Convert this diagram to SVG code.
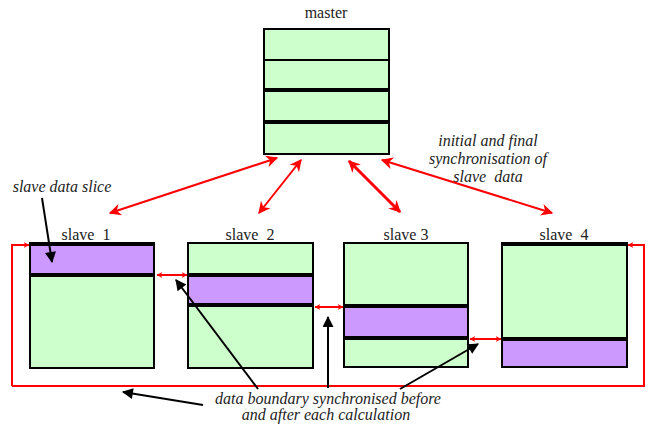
<svg xmlns="http://www.w3.org/2000/svg" width="649" height="425" viewBox="0 0 649 425">
<defs>
<marker id="ra" viewBox="0 0 10 10" refX="9" refY="5" markerWidth="6" markerHeight="6" markerUnits="userSpaceOnUse" orient="auto-start-reverse"><path d="M0,0 L10,5 L0,10 L3,5 z" fill="#ff0000"/></marker>
<marker id="rb" viewBox="0 0 10 10" refX="9" refY="5" markerWidth="14" markerHeight="12" markerUnits="userSpaceOnUse" orient="auto-start-reverse"><path d="M0,0 L10,5 L0,10 L3,5 z" fill="#ff0000"/></marker>
<marker id="ba" viewBox="0 0 10 10" refX="9" refY="5" markerWidth="13" markerHeight="11" markerUnits="userSpaceOnUse" orient="auto"><path d="M0,0 L10,5 L0,10 z" fill="#000"/></marker>
</defs>
<style>
.g{fill:#ccffcc;stroke:#000;stroke-width:2}
.p{fill:#cc99ff;stroke:none}
.k{stroke:#000;stroke-width:4}
.t{font-family:"Liberation Serif",serif;font-size:16px;fill:#222;text-anchor:middle}
.i{font-style:italic}
.r{fill:none;stroke:#ff0000;stroke-width:2}
.b{fill:none;stroke:#000;stroke-width:2}
</style>
<g id="master">
<text class="t" x="326" y="18">master</text>
<rect class="g" x="264" y="29" width="125" height="31"/>
<rect class="g" x="264" y="60" width="125" height="29"/>
<rect class="g" x="264" y="91" width="125" height="30"/>
<rect class="g" x="264" y="123" width="125" height="31"/>
</g>
<g id="slave1">
<text class="t" x="86" y="240" xml:space="preserve">slave  1</text>
<rect class="g" x="30" y="243" width="124" height="125"/>
<rect class="p" x="31" y="244" width="122" height="31"/>
<line class="k" x1="30" y1="244" x2="154" y2="244"/>
<line class="k" x1="30" y1="275" x2="154" y2="275"/>
</g>
<g id="slave2">
<text class="t" x="250" y="240" xml:space="preserve">slave  2</text>
<rect class="g" x="188" y="243" width="125" height="125"/>
<rect class="p" x="189" y="275" width="123" height="29"/>
<line class="k" x1="188" y1="275" x2="313" y2="275"/>
<line class="k" x1="188" y1="305" x2="313" y2="305"/>
</g>
<g id="slave3">
<text class="t" x="406" y="240">slave 3</text>
<rect class="g" x="344" y="243" width="124" height="124"/>
<rect class="p" x="345" y="306" width="122" height="30"/>
<line class="k" x1="344" y1="306" x2="468" y2="306"/>
<line class="k" x1="344" y1="338" x2="468" y2="338"/>
</g>
<g id="slave4">
<text class="t" x="564" y="240" xml:space="preserve">slave  4</text>
<rect class="g" x="502" y="243" width="125" height="124"/>
<rect class="p" x="503" y="339" width="123" height="27"/>
<line class="k" x1="502" y1="244" x2="627" y2="244"/>
<line class="k" x1="502" y1="339" x2="627" y2="339"/>
</g>
<g id="labels">
<text class="t i" x="62" y="192">slave data slice</text>
<text class="t i" x="488" y="146">initial and final</text>
<text class="t i" x="488" y="164">synchronisation of</text>
<text class="t i" x="488" y="182" xml:space="preserve">slave  data</text>
<text class="t i" x="328" y="404">data boundary synchronised before</text>
<text class="t i" x="326" y="420">and after each calculation</text>
</g>
<g id="connectors">
<path class="r" d="M12,386 L12,245 L29,245" marker-end="url(#ra)"/>
<path class="r" d="M12,386 L644,386 L644,245 L628,245" marker-end="url(#ra)"/>
<line class="r" x1="157" y1="275" x2="187" y2="275" marker-start="url(#ra)" marker-end="url(#ra)"/>
<line class="r" x1="315" y1="307" x2="343" y2="307" marker-start="url(#ra)" marker-end="url(#ra)"/>
<line class="r" x1="470" y1="339" x2="501" y2="339" marker-start="url(#ra)" marker-end="url(#ra)"/>
<line class="r" x1="110" y1="213" x2="277" y2="158" marker-start="url(#rb)" marker-end="url(#rb)"/>
<line class="r" x1="259" y1="213" x2="301" y2="160" marker-start="url(#rb)" marker-end="url(#rb)"/>
<line class="r" style="stroke-width:3" x1="349" y1="161" x2="400" y2="212" marker-start="url(#rb)" marker-end="url(#rb)"/>
<line class="r" x1="382" y1="160" x2="552" y2="213" marker-start="url(#rb)" marker-end="url(#rb)"/>
<line class="b" x1="42" y1="198" x2="52" y2="262" marker-end="url(#ba)"/>
<line class="b" x1="258" y1="389" x2="176" y2="280" marker-end="url(#ba)"/>
<line class="b" x1="328" y1="388" x2="328" y2="317" marker-end="url(#ba)"/>
<line class="b" x1="400" y1="389" x2="478" y2="344" marker-end="url(#ba)"/>
<line class="b" x1="203" y1="405" x2="123" y2="392" marker-end="url(#ba)"/>
</g>
</svg>
